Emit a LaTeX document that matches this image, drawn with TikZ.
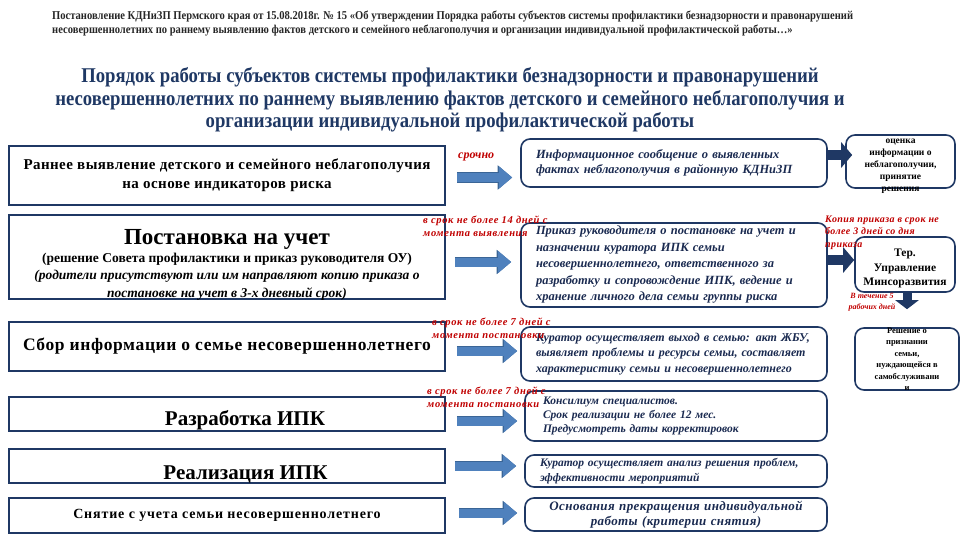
\documentclass[tikz,border=0pt]{standalone}
\usepackage{fontspec}
\setmainfont{Liberation Serif}
\newfontfamily\decreefont[FakeStretch=0.88]{Liberation Serif}
\newfontfamily\titlefont[FakeStretch=0.89]{Liberation Serif}
\usetikzlibrary{arrows.meta,positioning}
\definecolor{frame}{HTML}{1F3864}
\definecolor{navy}{HTML}{1F3864}
\definecolor{flow}{HTML}{4F81BD}
\definecolor{flowline}{HTML}{3A6596}
\definecolor{alert}{HTML}{C00000}
\definecolor{ink}{HTML}{1A2A50}

\begin{document}
\begin{tikzpicture}[x=1pt,y=-1pt,
  stage/.style={draw=frame,line width=1.6pt,minimum width=436pt,inner sep=1pt,align=center,font=\bfseries},
  action/.style={draw=frame,line width=1.6pt,rounded corners=9pt,inner xsep=15pt,inner ysep=2pt,text width=276pt,align=left,text=ink,font=\fontsize{12}{15.5}\selectfont\bfseries\itshape},
  outcome/.style={draw=frame,line width=1.6pt,rounded corners=9pt,inner sep=0pt},
  caption/.style={inner sep=0pt,align=center},
  term/.style={text=alert,anchor=west,inner sep=0pt,align=left,font=\fontsize{10.5}{13}\selectfont\bfseries\itshape\addfontfeature{LetterSpace=6}},
  flowarrow/.style={flow,line width=9pt,-{Triangle[length=13pt,width=21pt]},
    preaction={draw=flowline,line width=10.4pt,-{Triangle[length=14.5pt,width=23.5pt]}}},
  navyarrow/.style={navy,line width=10pt,-{Triangle[length=11pt,width=25pt]}}]
  \useasboundingbox (0,0) rectangle (960,540);

  \node[anchor=west,align=left,inner sep=0pt,text=black!85,font=\fontsize{12}{14}\selectfont\decreefont\bfseries] (decree) at (52,24)
    {Постановление КДНиЗП Пермского края от 15.08.2018г. № 15 «Об утверждении Порядка работы субъектов системы профилактики безнадзорности и правонарушений\\
     несовершеннолетних по раннему выявлению фактов детского и семейного неблагополучия и организации индивидуальной профилактической работы…»};
  \node[align=center,text=navy,font=\fontsize{21}{22.5}\selectfont\titlefont\bfseries] (title) at (450,100)
    {Порядок работы субъектов системы профилактики безнадзорности и правонарушений\\
     несовершеннолетних по раннему выявлению фактов детского и семейного неблагополучия и\\
     организации индивидуальной профилактической работы};

  \node[stage,minimum height=59pt,font=\fontsize{15}{19}\selectfont\bfseries\addfontfeature{LetterSpace=3}] (detect) at (227,175.5)
    {Раннее выявление детского и семейного неблагополучия\\на основе индикаторов риска};
  \node[stage,minimum height=84pt] (register) at (227,257) {};
  \node[caption,font=\fontsize{13.5}{17.5}\selectfont\bfseries] (registerText) at (227,265)
    {{\fontsize{23}{21}\selectfont Постановка на учет}\\
     (решение Совета профилактики и приказ руководителя ОУ)\\
     {\itshape (родители присутствуют или им направляют копию приказа о}\\
     {\itshape постановке на учет в 3-х дневный срок)}};
  \node[stage,minimum height=49pt,font=\fontsize{17.5}{20}\selectfont\bfseries\addfontfeature{LetterSpace=3.5}] (collect) at (227,346.5)
    {Сбор информации о семье несовершеннолетнего};
  \node[stage,minimum height=34pt] (draft) at (227,414) {};
  \node[caption,font=\fontsize{21}{24}\selectfont\bfseries] (draftText) at (245,420) {Разработка ИПК};
  \node[stage,minimum height=34pt] (apply) at (227,466) {};
  \node[caption,font=\fontsize{21}{24}\selectfont\bfseries] (applyText) at (245.5,474) {Реализация ИПК};
  \node[stage,minimum height=35pt,font=\fontsize{14}{17}\selectfont\bfseries\addfontfeature{LetterSpace=6}] (close) at (227,515.5)
    {Снятие с учета семьи несовершеннолетнего};

  \node[action,minimum height=48pt,font=\fontsize{12.5}{15.5}\selectfont\bfseries\itshape] (notice) at (674,163)
    {Информационное сообщение о выявленных\\фактах неблагополучия в районную КДНиЗП};
  \node[action,minimum height=84pt,font=\fontsize{12.5}{16.5}\selectfont\bfseries\itshape] (order) at (674,265)
    {Приказ руководителя о постановке на учет и\\
     назначении куратора ИПК семьи\\
     несовершеннолетнего, ответственного за\\
     разработку и сопровождение ИПК, ведение и\\
     хранение личного дела семьи группы риска};
  \node[action,minimum height=54pt] (visit) at (674,354)
    {Куратор осуществляет выход в семью: акт ЖБУ,\\
     выявляет проблемы и ресурсы семьи, составляет\\
     характеристику семьи и несовершеннолетнего};
  \node[action,minimum height=50pt,inner xsep=18pt,text width=266pt,font=\fontsize{11.5}{14}\selectfont\bfseries\itshape] (council) at (676,416)
    {Консилиум специалистов.\\
     Срок реализации не более 12 мес.\\
     Предусмотреть даты корректировок};
  \node[action,minimum height=32pt,font=\fontsize{11.5}{14.5}\selectfont\bfseries\itshape,text width=272pt] (review) at (676,471)
    {Куратор осуществляет анализ решения проблем,\\
     эффективности мероприятий};
  \node[action,minimum height=33pt,align=center,font=\fontsize{13}{15}\selectfont\bfseries\itshape\addfontfeature{LetterSpace=3},text width=272pt] (grounds) at (676,514.5)
    {Основания прекращения индивидуальной\\работы (критерии снятия)};

  \node[outcome,minimum width=109pt,minimum height=53pt] (assess) at (900.5,161.5) {};
  \node[caption,font=\fontsize{9.5}{12}\selectfont\bfseries] (assessText) at (900.5,166.5)
    {оценка\\информации о\\неблагополучии,\\принятие\\решения};
  \node[outcome,minimum width=100pt,minimum height=55pt] (ministry) at (905,264.5) {};
  \node[caption,font=\fontsize{11.5}{14.5}\selectfont\bfseries] (ministryText) at (905,268.5)
    {Тер.\\Управление\\Минсоразвития};
  \node[outcome,minimum width=104pt,minimum height=62pt] (decision) at (907,359) {};
  \node[caption,font=\fontsize{8.5}{11.5}\selectfont\bfseries] (decisionText) at (907,359)
    {Решение о\\признании\\семьи,\\нуждающейся в\\самобслуживани\\и};

  \node[term,font=\fontsize{12}{14}\selectfont\bfseries\itshape] (urgent) at (458,157) {срочно};
  \node[term] (term14) at (423,226.5) {в срок не более 14 дней с\\момента выявления};
  \node[term] (term7a) at (432,328.5) {в срок не более 7 дней с\\момента постановки};
  \node[term] (term7b) at (427,397) {в срок не более 7 дней с\\момента постановки};
  \node[term,font=\fontsize{10}{12.5}\selectfont\bfseries\itshape\addfontfeature{LetterSpace=4}] (copy) at (825,232.5) {Копия приказа в срок не\\более 3 дней со дня\\приказа};
  \node[term,anchor=center,align=center,font=\fontsize{8}{11}\selectfont\bfseries\itshape] (days5) at (872,302.5) {В течение 5\\рабочих дней};

  \draw[flowarrow,shorten <=11pt,shorten >=8pt] ([yshift=-2pt]detect.east) -- ([yshift=-2pt]detect.east -| notice.west);
  \draw[flowarrow,shorten <=9pt,shorten >=9pt] ([yshift=-5pt]register.east) -- ([yshift=-5pt]register.east -| order.west);
  \draw[flowarrow,shorten <=11pt,shorten >=3pt] ([yshift=-4.5pt]collect.east) -- ([yshift=-4.5pt]collect.east -| visit.west);
  \draw[flowarrow,shorten <=11pt,shorten >=7pt] ([yshift=-7pt]draft.east) -- ([yshift=-7pt]draft.east -| council.west);
  \draw[flowarrow,shorten <=9pt,shorten >=8pt] (apply.east) -- (apply.east -| review.west);
  \draw[flowarrow,shorten <=13pt,shorten >=7pt] ([yshift=2.5pt]close.east) -- ([yshift=2.5pt]close.east -| grounds.west);

  \draw[navyarrow,shorten >=-7pt] ([yshift=8pt]notice.east) -- ([yshift=8pt]notice.east -| assess.west);
  \draw[navyarrow] ([yshift=5pt]order.east) -- ([yshift=5pt]order.east -| ministry.west);
  \draw[navyarrow,line width=9pt,-{Triangle[length=9pt,width=23pt]},shorten >=18pt] ([xshift=2pt]ministry.south) -- (decision.north);
\end{tikzpicture}
\end{document}
